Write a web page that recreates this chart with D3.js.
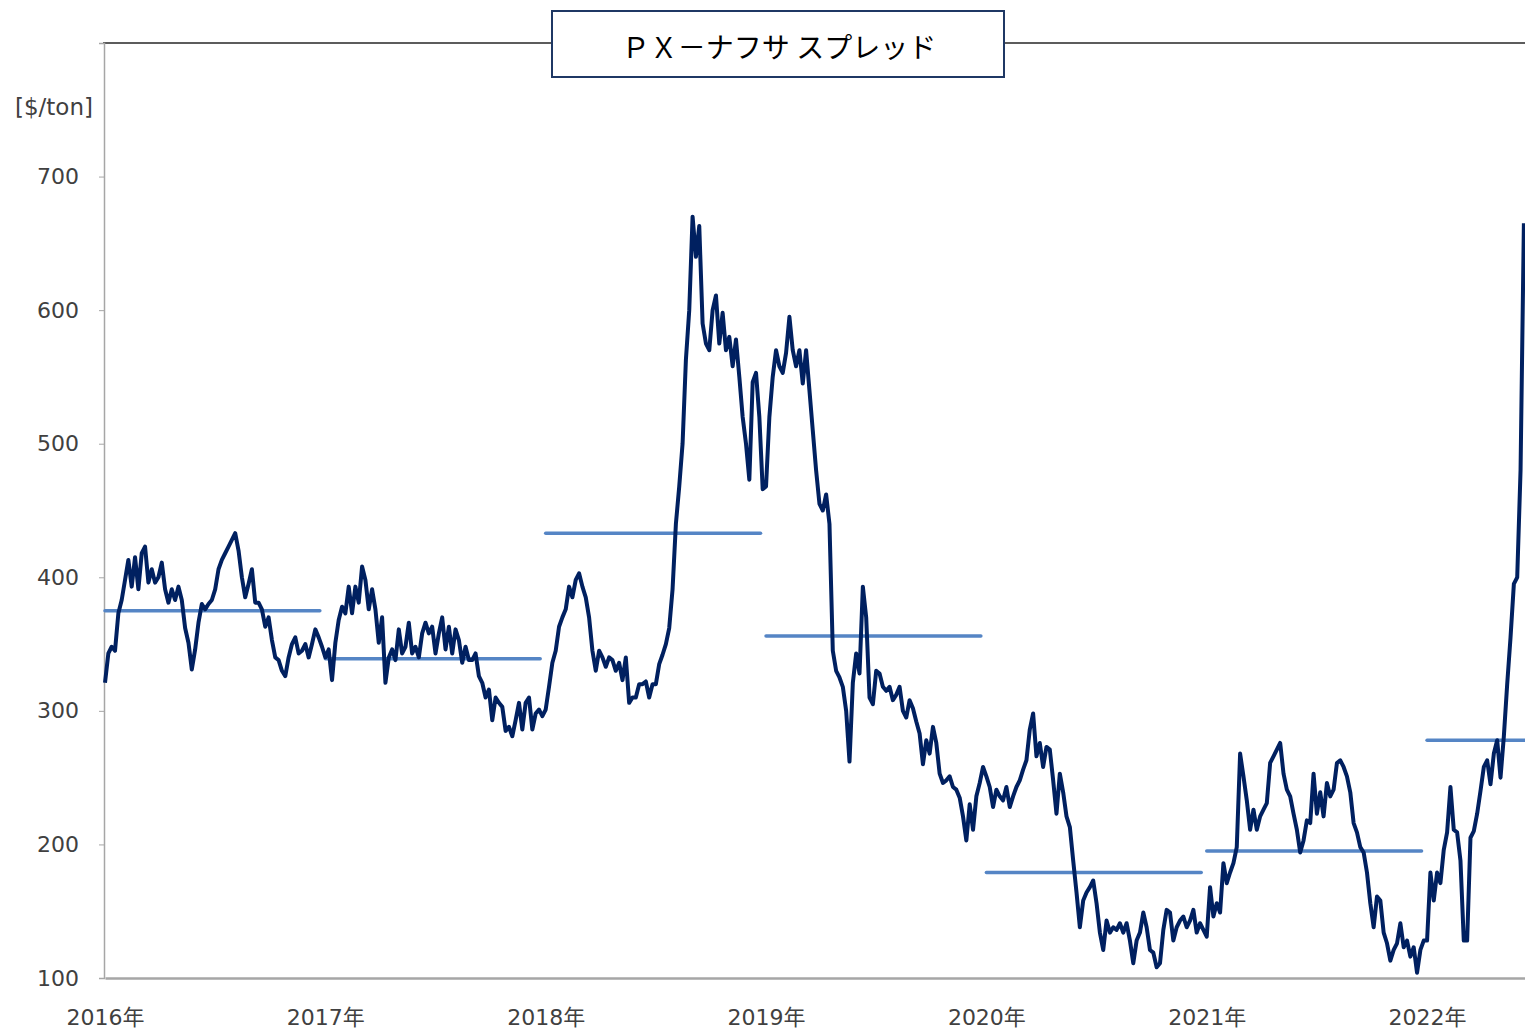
<!DOCTYPE html>
<html>
<head>
<meta charset="utf-8">
<script src="https://cdn.jsdelivr.net/npm/d3@7"></script>
<style>
  body { margin: 0; background: #fff; }
  svg { display: block; }
</style>
</head>
<body>
<svg id="chart"></svg>
<script>
// PX - naphtha spread ($/ton), evenly spaced within each year
const years = [2016, 2017, 2018, 2019, 2020, 2021, 2022];
const yearLabels = ["2016年", "2017年", "2018年", "2019年", "2020年", "2021年", "2022年"];
const yTicks = [100, 200, 300, 400, 500, 600, 700];

const spread2016 = [321,343,348,345,373,383,398,413,393,415, 391,418,423,396,406,396,400,411,391,381,
  391,383,393,383,362,351,331,346,366,380, 376,380,383,391,406,413,418,423,428,433,
  420,400,385,395,406,381,381,376,363,370, 353,340,338,330,326,340,350,355,343,345,
  350,340,350,361,355,348];
const spread2017 = [340,346,323,351,368,378,373,393,373,393, 381,408,398,376,391,376,351,370,321,340,
  346,338,361,343,348,366,343,348,340,358, 366,358,363,343,358,370,346,363,343,361,
  353,336,348,338,338,343,326,321,310,316, 293,310,306,303,285,288,281,293,306,286,
  306,310,286,298,301,296];
const spread2018 = [301,318,336,345,363,370,376,393,385,398, 403,393,385,370,345,330,345,340,333,340,
  338,330,336,323,340,306,310,310,320,320, 322,310,320,320,335,342,350,362,391,440,
  468,500,563,600,670,640,663,590,575,570, 600,611,575,598,570,580,558,578,550,520,
  500,473,546,553,520,466];
const spread2019 = [468,520,550,570,558,553,568,595,570,558, 570,545,570,540,510,480,455,450,462,440,
  345,330,325,318,300,262,321,343,328,393, 370,310,305,330,328,318,315,318,308,312,
  318,300,295,308,302,292,283,260,278,268, 288,276,253,246,248,251,243,241,235,221,
  203,230,211,236,246,258];
const spread2020 = [251,243,228,241,236,233,243,228,236,243, 248,256,263,286,298,266,276,258,273,271,
  248,223,253,239,221,213,188,164,138,158, 164,168,173,156,134,121,143,134,138,136,
  141,134,141,128,111,128,134,149,138,121, 119,108,111,136,151,149,128,138,143,146,
  138,143,151,134,141,136];
const spread2021 = [131,168,146,156,149,186,171,179,186,198, 268,251,233,211,226,211,221,226,231,261,
  266,271,276,253,241,236,223,211,194,203, 218,216,253,223,239,221,246,236,241,261,
  263,258,251,239,216,209,198,194,179,156, 138,161,158,134,126,113,121,126,141,123,
  128,116,123,104,121,128];
const spread2022 = [128,179,158,179,171,196,209,243,211,209, 188,128,128,205,210,223,240,258,263,245,
  268,278,250,281,320,355,395,400,480,665];

// yearly averages (light blue bars)
const yearAverages = [375, 339, 433, 356, 179, 195, 278];

const seriesByYear = [spread2016, spread2017, spread2018, spread2019, spread2020, spread2021, spread2022];
const samplesPerYear = 66;

class SpreadChart {

  constructor(_config, _data) {
    this.config = {
      parentElement: _config.parentElement,
      containerWidth: _config.containerWidth || 1525,
      containerHeight: _config.containerHeight || 1030,
      margin: { top: 43, bottom: 52, right: 0, left: 104 }
    }
    this.data = _data;
    this.initVis();
  }

  initVis() {
    let vis = this;

    vis.lineColor = "#002060";
    vis.avgColor = "#5585c5";
    vis.axisColor = "#a6a6a6";
    vis.textColor = "#404040";

    vis.width = vis.config.containerWidth - vis.config.margin.left - vis.config.margin.right;
    vis.height = vis.config.containerHeight - vis.config.margin.top - vis.config.margin.bottom;

    vis.svg = d3.select(vis.config.parentElement)
        .attr('width', vis.config.containerWidth)
        .attr('height', vis.config.containerHeight);

    vis.chart = vis.svg.append('g')
        .attr('transform', `translate(${vis.config.margin.left},${vis.config.margin.top})`);

    // x is a decimal year, last visible point is just short of mid-2022
    vis.xScale = d3.scaleLinear()
        .domain([2016, 2016 + vis.width / 220.5])
        .range([1, vis.width]);

    vis.yScale = d3.scaleLinear()
        .domain([100, 800])
        .range([vis.height, 0]);

    vis.updateVis();
  }

  updateVis() {
    let vis = this;

    vis.points = [];
    vis.data.series.forEach((arr, j) => {
      arr.forEach((v, i) => {
        vis.points.push({ t: vis.data.years[j] + i / samplesPerYear, value: v });
      });
    });

    vis.averages = vis.data.years.map((y, j) => ({
      start: y,
      end: Math.min(y + 0.975, vis.xScale.domain()[1]),
      value: vis.data.averages[j]
    }));

    vis.renderVis();
  }

  renderVis() {
    let vis = this;

    // top border line (runs behind the title box)
    vis.chart.append("line")
        .attr("x1", -1).attr("x2", vis.width)
        .attr("y1", 0).attr("y2", 0)
        .attr("stroke", "#262626")
        .attr("stroke-width", 1.5);

    // y axis
    const yAxis = d3.axisLeft(vis.yScale)
        .tickValues(vis.data.yTicks)
        .tickSize(5)
        .tickPadding(20);
    const yG = vis.chart.append("g").attr("class", "y-axis").call(yAxis);
    yG.select(".domain").attr("stroke", vis.axisColor).attr("stroke-width", 1.5);
    yG.selectAll(".tick line").attr("stroke", vis.axisColor);
    yG.selectAll(".tick text")
        .attr("fill", vis.textColor)
        .attr("font-family", "'DejaVu Sans', sans-serif")
        .attr("font-size", "22px");

    // x axis (year labels under the baseline)
    const xAxis = d3.axisBottom(vis.xScale)
        .tickValues(vis.data.years)
        .tickSize(0)
        .tickPadding(31)
        .tickFormat((d, i) => vis.data.yearLabels[i]);
    const xG = vis.chart.append("g").attr("class", "x-axis")
        .attr("transform", `translate(0,${vis.height})`)
        .call(xAxis);
    xG.select(".domain").attr("stroke", vis.axisColor).attr("stroke-width", 2.5);
    xG.selectAll(".tick text")
        .attr("fill", vis.textColor)
        .attr("font-family", "'DejaVu Sans', 'Noto Sans CJK JP', sans-serif")
        .attr("font-size", "22px");

    // unit label
    vis.svg.append("text")
        .attr("x", 54)
        .attr("y", 115)
        .attr("text-anchor", "middle")
        .attr("fill", vis.textColor)
        .attr("font-family", "'DejaVu Sans', sans-serif")
        .attr("font-size", "23px")
        .text("[$/ton]");

    // yearly average bars
    vis.chart.selectAll(".avg")
      .data(vis.averages)
      .join("line")
        .attr("class", "avg")
        .attr("x1", d => vis.xScale(d.start))
        .attr("x2", d => vis.xScale(d.end))
        .attr("y1", d => vis.yScale(d.value))
        .attr("y2", d => vis.yScale(d.value))
        .attr("stroke", vis.avgColor)
        .attr("stroke-width", 3.5)
        .attr("stroke-linecap", "round");

    // spread line
    const line = d3.line()
        .x(d => vis.xScale(d.t))
        .y(d => vis.yScale(d.value));

    vis.chart.append("path")
        .datum(vis.points)
        .attr("fill", "none")
        .attr("stroke", vis.lineColor)
        .attr("stroke-width", 4)
        .attr("stroke-linejoin", "round")
        .attr("d", line);

    // title box
    const title = vis.svg.append("g");
    title.append("rect")
        .attr("x", 552).attr("y", 11)
        .attr("width", 452).attr("height", 66)
        .attr("fill", "#fff")
        .attr("stroke", "#1f3864")
        .attr("stroke-width", 2);
    title.append("text")
        .attr("x", 779)
        .attr("y", 46)
        .attr("text-anchor", "middle")
        .attr("dominant-baseline", "central")
        .attr("fill", "#000")
        .attr("font-family", "'Noto Sans CJK JP', sans-serif")
        .attr("font-size", "28px")
        .text("ＰＸ－ナフサ スプレッド");
  }
}

const chart = new SpreadChart({ parentElement: '#chart' }, {
  years: years,
  yearLabels: yearLabels,
  yTicks: yTicks,
  series: seriesByYear,
  averages: yearAverages
});
</script>
</body>
</html>
